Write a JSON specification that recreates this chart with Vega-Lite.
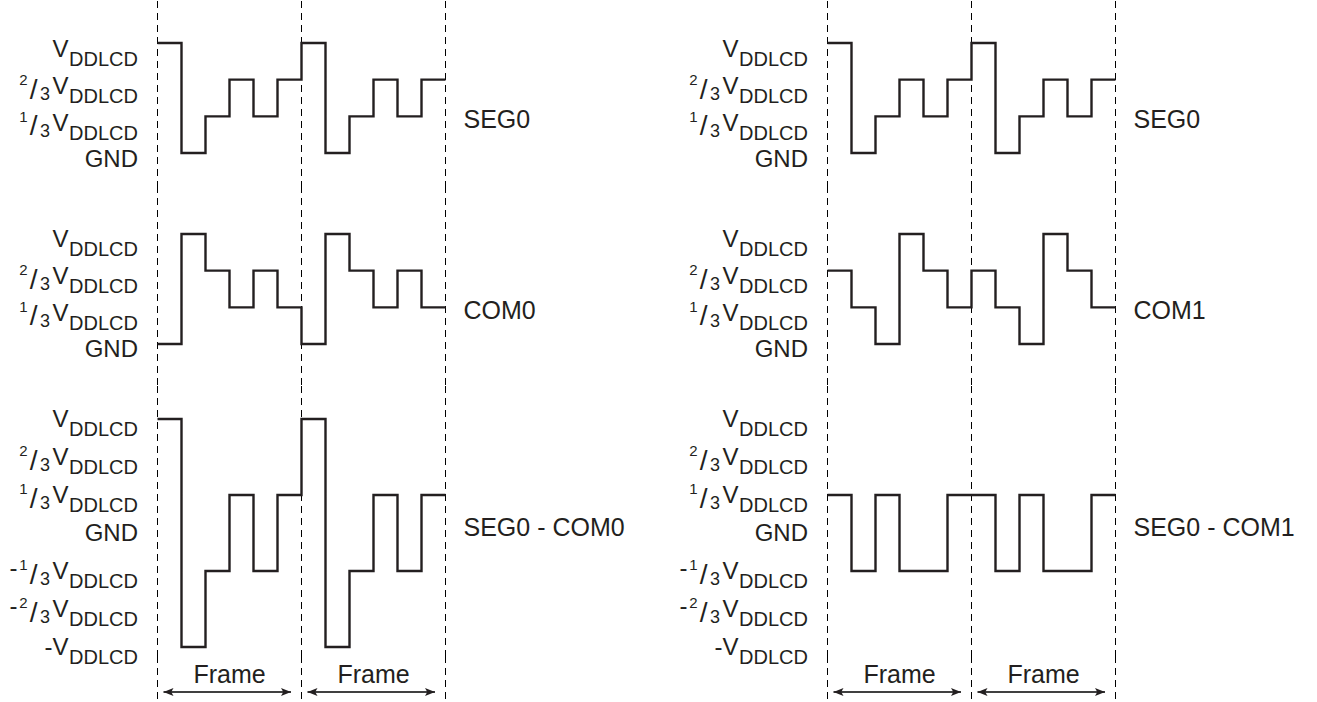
{
  "$schema": "https://vega.github.io/schema/vega-lite/v6.json",
  "padding": 0,
  "columns": 2,
  "spacing": {"row": 0, "column": 23},
  "bounds": "flush",
  "align": "each",
  "config": {
    "view": {"stroke": null},
    "mark": {"color": "#231f20"},
    "text": {"font": "Liberation Sans", "color": "#231f20"}
  },
  "datasets": {
    "d": [
      {"kind": "dash", "panel": "L", "t": 0}, {"kind": "dash", "panel": "L", "t": 6}, {"kind": "dash", "panel": "L", "t": 12},
      {"kind": "dash", "panel": "R", "t": 0}, {"kind": "dash", "panel": "R", "t": 6}, {"kind": "dash", "panel": "R", "t": 12},

      {"row": "seg", "panel": "L", "kind": "wave", "t": 0, "u": 3}, {"row": "seg", "panel": "L", "kind": "wave", "t": 1, "u": 0},
      {"row": "seg", "panel": "L", "kind": "wave", "t": 2, "u": 1}, {"row": "seg", "panel": "L", "kind": "wave", "t": 3, "u": 2},
      {"row": "seg", "panel": "L", "kind": "wave", "t": 4, "u": 1}, {"row": "seg", "panel": "L", "kind": "wave", "t": 5, "u": 2},
      {"row": "seg", "panel": "L", "kind": "wave", "t": 6, "u": 3}, {"row": "seg", "panel": "L", "kind": "wave", "t": 7, "u": 0},
      {"row": "seg", "panel": "L", "kind": "wave", "t": 8, "u": 1}, {"row": "seg", "panel": "L", "kind": "wave", "t": 9, "u": 2},
      {"row": "seg", "panel": "L", "kind": "wave", "t": 10, "u": 1}, {"row": "seg", "panel": "L", "kind": "wave", "t": 11, "u": 2},
      {"row": "seg", "panel": "L", "kind": "wave", "t": 12, "u": 2},

      {"row": "seg", "panel": "R", "kind": "wave", "t": 0, "u": 3}, {"row": "seg", "panel": "R", "kind": "wave", "t": 1, "u": 0},
      {"row": "seg", "panel": "R", "kind": "wave", "t": 2, "u": 1}, {"row": "seg", "panel": "R", "kind": "wave", "t": 3, "u": 2},
      {"row": "seg", "panel": "R", "kind": "wave", "t": 4, "u": 1}, {"row": "seg", "panel": "R", "kind": "wave", "t": 5, "u": 2},
      {"row": "seg", "panel": "R", "kind": "wave", "t": 6, "u": 3}, {"row": "seg", "panel": "R", "kind": "wave", "t": 7, "u": 0},
      {"row": "seg", "panel": "R", "kind": "wave", "t": 8, "u": 1}, {"row": "seg", "panel": "R", "kind": "wave", "t": 9, "u": 2},
      {"row": "seg", "panel": "R", "kind": "wave", "t": 10, "u": 1}, {"row": "seg", "panel": "R", "kind": "wave", "t": 11, "u": 2},
      {"row": "seg", "panel": "R", "kind": "wave", "t": 12, "u": 2},

      {"row": "com", "panel": "L", "kind": "wave", "t": 0, "u": 0}, {"row": "com", "panel": "L", "kind": "wave", "t": 1, "u": 3},
      {"row": "com", "panel": "L", "kind": "wave", "t": 2, "u": 2}, {"row": "com", "panel": "L", "kind": "wave", "t": 3, "u": 1},
      {"row": "com", "panel": "L", "kind": "wave", "t": 4, "u": 2}, {"row": "com", "panel": "L", "kind": "wave", "t": 5, "u": 1},
      {"row": "com", "panel": "L", "kind": "wave", "t": 6, "u": 0}, {"row": "com", "panel": "L", "kind": "wave", "t": 7, "u": 3},
      {"row": "com", "panel": "L", "kind": "wave", "t": 8, "u": 2}, {"row": "com", "panel": "L", "kind": "wave", "t": 9, "u": 1},
      {"row": "com", "panel": "L", "kind": "wave", "t": 10, "u": 2}, {"row": "com", "panel": "L", "kind": "wave", "t": 11, "u": 1},
      {"row": "com", "panel": "L", "kind": "wave", "t": 12, "u": 1},

      {"row": "com", "panel": "R", "kind": "wave", "t": 0, "u": 2}, {"row": "com", "panel": "R", "kind": "wave", "t": 1, "u": 1},
      {"row": "com", "panel": "R", "kind": "wave", "t": 2, "u": 0}, {"row": "com", "panel": "R", "kind": "wave", "t": 3, "u": 3},
      {"row": "com", "panel": "R", "kind": "wave", "t": 4, "u": 2}, {"row": "com", "panel": "R", "kind": "wave", "t": 5, "u": 1},
      {"row": "com", "panel": "R", "kind": "wave", "t": 6, "u": 2}, {"row": "com", "panel": "R", "kind": "wave", "t": 7, "u": 1},
      {"row": "com", "panel": "R", "kind": "wave", "t": 8, "u": 0}, {"row": "com", "panel": "R", "kind": "wave", "t": 9, "u": 3},
      {"row": "com", "panel": "R", "kind": "wave", "t": 10, "u": 2}, {"row": "com", "panel": "R", "kind": "wave", "t": 11, "u": 1},
      {"row": "com", "panel": "R", "kind": "wave", "t": 12, "u": 1},

      {"row": "diff", "panel": "L", "kind": "wave", "t": 0, "u": 3}, {"row": "diff", "panel": "L", "kind": "wave", "t": 1, "u": -3},
      {"row": "diff", "panel": "L", "kind": "wave", "t": 2, "u": -1}, {"row": "diff", "panel": "L", "kind": "wave", "t": 3, "u": 1},
      {"row": "diff", "panel": "L", "kind": "wave", "t": 4, "u": -1}, {"row": "diff", "panel": "L", "kind": "wave", "t": 5, "u": 1},
      {"row": "diff", "panel": "L", "kind": "wave", "t": 6, "u": 3}, {"row": "diff", "panel": "L", "kind": "wave", "t": 7, "u": -3},
      {"row": "diff", "panel": "L", "kind": "wave", "t": 8, "u": -1}, {"row": "diff", "panel": "L", "kind": "wave", "t": 9, "u": 1},
      {"row": "diff", "panel": "L", "kind": "wave", "t": 10, "u": -1}, {"row": "diff", "panel": "L", "kind": "wave", "t": 11, "u": 1},
      {"row": "diff", "panel": "L", "kind": "wave", "t": 12, "u": 1},

      {"row": "diff", "panel": "R", "kind": "wave", "t": 0, "u": 1}, {"row": "diff", "panel": "R", "kind": "wave", "t": 1, "u": -1},
      {"row": "diff", "panel": "R", "kind": "wave", "t": 2, "u": 1}, {"row": "diff", "panel": "R", "kind": "wave", "t": 3, "u": -1},
      {"row": "diff", "panel": "R", "kind": "wave", "t": 4, "u": -1}, {"row": "diff", "panel": "R", "kind": "wave", "t": 5, "u": 1},
      {"row": "diff", "panel": "R", "kind": "wave", "t": 6, "u": 1}, {"row": "diff", "panel": "R", "kind": "wave", "t": 7, "u": -1},
      {"row": "diff", "panel": "R", "kind": "wave", "t": 8, "u": 1}, {"row": "diff", "panel": "R", "kind": "wave", "t": 9, "u": -1},
      {"row": "diff", "panel": "R", "kind": "wave", "t": 10, "u": -1}, {"row": "diff", "panel": "R", "kind": "wave", "t": 11, "u": 1},
      {"row": "diff", "panel": "R", "kind": "wave", "t": 12, "u": 1},

      {"row": "seg", "panel": "L", "kind": "lab", "u": 3, "main": "V", "sub": "DDLCD"},
      {"row": "seg", "panel": "L", "kind": "lab", "u": 2, "num": "2", "sl": "/", "den": "3", "main": "V", "sub": "DDLCD"},
      {"row": "seg", "panel": "L", "kind": "lab", "u": 1, "num": "1", "sl": "/", "den": "3", "main": "V", "sub": "DDLCD"},
      {"row": "seg", "panel": "L", "kind": "lab", "u": 0, "main": "GND"},
      {"row": "seg", "panel": "R", "kind": "lab", "u": 3, "main": "V", "sub": "DDLCD"},
      {"row": "seg", "panel": "R", "kind": "lab", "u": 2, "num": "2", "sl": "/", "den": "3", "main": "V", "sub": "DDLCD"},
      {"row": "seg", "panel": "R", "kind": "lab", "u": 1, "num": "1", "sl": "/", "den": "3", "main": "V", "sub": "DDLCD"},
      {"row": "seg", "panel": "R", "kind": "lab", "u": 0, "main": "GND"},

      {"row": "com", "panel": "L", "kind": "lab", "u": 3, "main": "V", "sub": "DDLCD"},
      {"row": "com", "panel": "L", "kind": "lab", "u": 2, "num": "2", "sl": "/", "den": "3", "main": "V", "sub": "DDLCD"},
      {"row": "com", "panel": "L", "kind": "lab", "u": 1, "num": "1", "sl": "/", "den": "3", "main": "V", "sub": "DDLCD"},
      {"row": "com", "panel": "L", "kind": "lab", "u": 0, "main": "GND"},
      {"row": "com", "panel": "R", "kind": "lab", "u": 3, "main": "V", "sub": "DDLCD"},
      {"row": "com", "panel": "R", "kind": "lab", "u": 2, "num": "2", "sl": "/", "den": "3", "main": "V", "sub": "DDLCD"},
      {"row": "com", "panel": "R", "kind": "lab", "u": 1, "num": "1", "sl": "/", "den": "3", "main": "V", "sub": "DDLCD"},
      {"row": "com", "panel": "R", "kind": "lab", "u": 0, "main": "GND"},

      {"row": "diff", "panel": "L", "kind": "lab", "u": 3, "main": "V", "sub": "DDLCD"},
      {"row": "diff", "panel": "L", "kind": "lab", "u": 2, "num": "2", "sl": "/", "den": "3", "main": "V", "sub": "DDLCD"},
      {"row": "diff", "panel": "L", "kind": "lab", "u": 1, "num": "1", "sl": "/", "den": "3", "main": "V", "sub": "DDLCD"},
      {"row": "diff", "panel": "L", "kind": "lab", "u": 0, "main": "GND"},
      {"row": "diff", "panel": "L", "kind": "lab", "u": -1, "sign": "-", "num": "1", "sl": "/", "den": "3", "main": "V", "sub": "DDLCD"},
      {"row": "diff", "panel": "L", "kind": "lab", "u": -2, "sign": "-", "num": "2", "sl": "/", "den": "3", "main": "V", "sub": "DDLCD"},
      {"row": "diff", "panel": "L", "kind": "lab", "u": -3, "main": "-V", "sub": "DDLCD"},
      {"row": "diff", "panel": "R", "kind": "lab", "u": 3, "main": "V", "sub": "DDLCD"},
      {"row": "diff", "panel": "R", "kind": "lab", "u": 2, "num": "2", "sl": "/", "den": "3", "main": "V", "sub": "DDLCD"},
      {"row": "diff", "panel": "R", "kind": "lab", "u": 1, "num": "1", "sl": "/", "den": "3", "main": "V", "sub": "DDLCD"},
      {"row": "diff", "panel": "R", "kind": "lab", "u": 0, "main": "GND"},
      {"row": "diff", "panel": "R", "kind": "lab", "u": -1, "sign": "-", "num": "1", "sl": "/", "den": "3", "main": "V", "sub": "DDLCD"},
      {"row": "diff", "panel": "R", "kind": "lab", "u": -2, "sign": "-", "num": "2", "sl": "/", "den": "3", "main": "V", "sub": "DDLCD"},
      {"row": "diff", "panel": "R", "kind": "lab", "u": -3, "main": "-V", "sub": "DDLCD"},

      {"row": "seg", "panel": "L", "kind": "name", "text": "SEG0"},
      {"row": "seg", "panel": "R", "kind": "name", "text": "SEG0"},
      {"row": "com", "panel": "L", "kind": "name", "text": "COM0"},
      {"row": "com", "panel": "R", "kind": "name", "text": "COM1"},
      {"row": "diff", "panel": "L", "kind": "name", "text": "SEG0 - COM0"},
      {"row": "diff", "panel": "R", "kind": "name", "text": "SEG0 - COM1"},

      {"row": "frame", "panel": "L", "kind": "frame", "t0": 0, "t1": 6, "text": "Frame"},
      {"row": "frame", "panel": "L", "kind": "frame", "t0": 6, "t1": 12, "text": "Frame"},
      {"row": "frame", "panel": "R", "kind": "frame", "t0": 0, "t1": 6, "text": "Frame"},
      {"row": "frame", "panel": "R", "kind": "frame", "t0": 6, "t1": 12, "text": "Frame"}
    ]
  },
  "concat": [
    {
      "width": 647, "height": 185,
      "data": {"name": "d"},
      "transform": [{"filter": "datum.panel === 'L' && (datum.row === 'seg' || datum.kind === 'dash')"}],
      "layer": [
        {"transform": [{"filter": "datum.kind === 'dash'"}], "mark": {"type": "rule", "strokeDash": [7, 5], "strokeWidth": 1},
         "encoding": {"x": {"field": "t", "type": "quantitative", "scale": {"domain": [-6.5625, 20.3958], "nice": false, "zero": false}, "axis": null}}},
        {"transform": [{"filter": "datum.kind === 'wave'"}], "mark": {"type": "line", "interpolate": "step-after", "strokeWidth": 2.4, "strokeJoin": "miter"},
         "encoding": {"x": {"field": "t", "type": "quantitative", "scale": {"domain": [-6.5625, 20.3958], "nice": false, "zero": false}, "axis": null},
                      "y": {"field": "u", "type": "quantitative", "scale": {"domain": [-0.9, 4.1451], "nice": false, "zero": false}, "axis": null}}},
        {"transform": [{"filter": "datum.kind === 'lab' && datum.sub"}], "mark": {"type": "text", "align": "right", "baseline": "alphabetic", "fontSize": 20, "dx": -19.5, "dy": 23.5},
         "encoding": {"x": {"datum": 0, "type": "quantitative", "scale": {"domain": [-6.5625, 20.3958], "nice": false, "zero": false}, "axis": null},
                      "y": {"field": "u", "type": "quantitative", "scale": {"domain": [-0.9, 4.1451], "nice": false, "zero": false}, "axis": null}, "text": {"field": "sub"}}},
        {"transform": [{"filter": "datum.kind === 'lab' && datum.main && datum.main !== 'GND'"}], "mark": {"type": "text", "align": "right", "baseline": "alphabetic", "fontSize": 24, "dx": -89, "dy": 14.5},
         "encoding": {"x": {"datum": 0, "type": "quantitative", "scale": {"domain": [-6.5625, 20.3958], "nice": false, "zero": false}, "axis": null},
                      "y": {"field": "u", "type": "quantitative", "scale": {"domain": [-0.9, 4.1451], "nice": false, "zero": false}, "axis": null}, "text": {"field": "main"}}},
        {"transform": [{"filter": "datum.kind === 'lab' && datum.main === 'GND'"}], "mark": {"type": "text", "align": "right", "baseline": "alphabetic", "fontSize": 24, "dx": -19.5, "dy": 14.5},
         "encoding": {"x": {"datum": 0, "type": "quantitative", "scale": {"domain": [-6.5625, 20.3958], "nice": false, "zero": false}, "axis": null},
                      "y": {"field": "u", "type": "quantitative", "scale": {"domain": [-0.9, 4.1451], "nice": false, "zero": false}, "axis": null}, "text": {"field": "main"}}},
        {"transform": [{"filter": "datum.kind === 'lab' && datum.den"}], "mark": {"type": "text", "align": "right", "baseline": "alphabetic", "fontSize": 18, "dx": -107.5, "dy": 20.5},
         "encoding": {"x": {"datum": 0, "type": "quantitative", "scale": {"domain": [-6.5625, 20.3958], "nice": false, "zero": false}, "axis": null},
                      "y": {"field": "u", "type": "quantitative", "scale": {"domain": [-0.9, 4.1451], "nice": false, "zero": false}, "axis": null}, "text": {"field": "den"}}},
        {"transform": [{"filter": "datum.kind === 'lab' && datum.sl"}], "mark": {"type": "text", "align": "right", "baseline": "alphabetic", "fontSize": 28, "dx": -120, "dy": 19},
         "encoding": {"x": {"datum": 0, "type": "quantitative", "scale": {"domain": [-6.5625, 20.3958], "nice": false, "zero": false}, "axis": null},
                      "y": {"field": "u", "type": "quantitative", "scale": {"domain": [-0.9, 4.1451], "nice": false, "zero": false}, "axis": null}, "text": {"field": "sl"}}},
        {"transform": [{"filter": "datum.kind === 'lab' && datum.num"}], "mark": {"type": "text", "align": "right", "baseline": "alphabetic", "fontSize": 15, "dx": -130, "dy": 5.5},
         "encoding": {"x": {"datum": 0, "type": "quantitative", "scale": {"domain": [-6.5625, 20.3958], "nice": false, "zero": false}, "axis": null},
                      "y": {"field": "u", "type": "quantitative", "scale": {"domain": [-0.9, 4.1451], "nice": false, "zero": false}, "axis": null}, "text": {"field": "num"}}},
        {"transform": [{"filter": "datum.kind === 'name'"}], "mark": {"type": "text", "align": "left", "baseline": "alphabetic", "fontSize": 25, "dx": 18, "dy": 11.7},
         "encoding": {"x": {"datum": 12, "type": "quantitative", "scale": {"domain": [-6.5625, 20.3958], "nice": false, "zero": false}, "axis": null},
                      "y": {"datum": 1, "type": "quantitative", "scale": {"domain": [-0.9, 4.1451], "nice": false, "zero": false}, "axis": null}, "text": {"field": "text"}}}
      ]
    },
    {
      "width": 647, "height": 185,
      "data": {"name": "d"},
      "transform": [{"filter": "datum.panel === 'R' && (datum.row === 'seg' || datum.kind === 'dash')"}],
      "layer": [
        {"transform": [{"filter": "datum.kind === 'dash'"}], "mark": {"type": "rule", "strokeDash": [7, 5], "strokeWidth": 1},
         "encoding": {"x": {"field": "t", "type": "quantitative", "scale": {"domain": [-6.5625, 20.3958], "nice": false, "zero": false}, "axis": null}}},
        {"transform": [{"filter": "datum.kind === 'wave'"}], "mark": {"type": "line", "interpolate": "step-after", "strokeWidth": 2.4, "strokeJoin": "miter"},
         "encoding": {"x": {"field": "t", "type": "quantitative", "scale": {"domain": [-6.5625, 20.3958], "nice": false, "zero": false}, "axis": null},
                      "y": {"field": "u", "type": "quantitative", "scale": {"domain": [-0.9, 4.1451], "nice": false, "zero": false}, "axis": null}}},
        {"transform": [{"filter": "datum.kind === 'lab' && datum.sub"}], "mark": {"type": "text", "align": "right", "baseline": "alphabetic", "fontSize": 20, "dx": -19.5, "dy": 23.5},
         "encoding": {"x": {"datum": 0, "type": "quantitative", "scale": {"domain": [-6.5625, 20.3958], "nice": false, "zero": false}, "axis": null},
                      "y": {"field": "u", "type": "quantitative", "scale": {"domain": [-0.9, 4.1451], "nice": false, "zero": false}, "axis": null}, "text": {"field": "sub"}}},
        {"transform": [{"filter": "datum.kind === 'lab' && datum.main && datum.main !== 'GND'"}], "mark": {"type": "text", "align": "right", "baseline": "alphabetic", "fontSize": 24, "dx": -89, "dy": 14.5},
         "encoding": {"x": {"datum": 0, "type": "quantitative", "scale": {"domain": [-6.5625, 20.3958], "nice": false, "zero": false}, "axis": null},
                      "y": {"field": "u", "type": "quantitative", "scale": {"domain": [-0.9, 4.1451], "nice": false, "zero": false}, "axis": null}, "text": {"field": "main"}}},
        {"transform": [{"filter": "datum.kind === 'lab' && datum.main === 'GND'"}], "mark": {"type": "text", "align": "right", "baseline": "alphabetic", "fontSize": 24, "dx": -19.5, "dy": 14.5},
         "encoding": {"x": {"datum": 0, "type": "quantitative", "scale": {"domain": [-6.5625, 20.3958], "nice": false, "zero": false}, "axis": null},
                      "y": {"field": "u", "type": "quantitative", "scale": {"domain": [-0.9, 4.1451], "nice": false, "zero": false}, "axis": null}, "text": {"field": "main"}}},
        {"transform": [{"filter": "datum.kind === 'lab' && datum.den"}], "mark": {"type": "text", "align": "right", "baseline": "alphabetic", "fontSize": 18, "dx": -107.5, "dy": 20.5},
         "encoding": {"x": {"datum": 0, "type": "quantitative", "scale": {"domain": [-6.5625, 20.3958], "nice": false, "zero": false}, "axis": null},
                      "y": {"field": "u", "type": "quantitative", "scale": {"domain": [-0.9, 4.1451], "nice": false, "zero": false}, "axis": null}, "text": {"field": "den"}}},
        {"transform": [{"filter": "datum.kind === 'lab' && datum.sl"}], "mark": {"type": "text", "align": "right", "baseline": "alphabetic", "fontSize": 28, "dx": -120, "dy": 19},
         "encoding": {"x": {"datum": 0, "type": "quantitative", "scale": {"domain": [-6.5625, 20.3958], "nice": false, "zero": false}, "axis": null},
                      "y": {"field": "u", "type": "quantitative", "scale": {"domain": [-0.9, 4.1451], "nice": false, "zero": false}, "axis": null}, "text": {"field": "sl"}}},
        {"transform": [{"filter": "datum.kind === 'lab' && datum.num"}], "mark": {"type": "text", "align": "right", "baseline": "alphabetic", "fontSize": 15, "dx": -130, "dy": 5.5},
         "encoding": {"x": {"datum": 0, "type": "quantitative", "scale": {"domain": [-6.5625, 20.3958], "nice": false, "zero": false}, "axis": null},
                      "y": {"field": "u", "type": "quantitative", "scale": {"domain": [-0.9, 4.1451], "nice": false, "zero": false}, "axis": null}, "text": {"field": "num"}}},
        {"transform": [{"filter": "datum.kind === 'name'"}], "mark": {"type": "text", "align": "left", "baseline": "alphabetic", "fontSize": 25, "dx": 18, "dy": 11.7},
         "encoding": {"x": {"datum": 12, "type": "quantitative", "scale": {"domain": [-6.5625, 20.3958], "nice": false, "zero": false}, "axis": null},
                      "y": {"datum": 1, "type": "quantitative", "scale": {"domain": [-0.9, 4.1451], "nice": false, "zero": false}, "axis": null}, "text": {"field": "text"}}}
      ]
    },
    {
      "width": 647, "height": 200,
      "data": {"name": "d"},
      "transform": [{"filter": "datum.panel === 'L' && (datum.row === 'com' || datum.kind === 'dash')"}],
      "layer": [
        {"transform": [{"filter": "datum.kind === 'dash'"}], "mark": {"type": "rule", "strokeDash": [7, 5], "strokeWidth": 1},
         "encoding": {"x": {"field": "t", "type": "quantitative", "scale": {"domain": [-6.5625, 20.3958], "nice": false, "zero": false}, "axis": null}}},
        {"transform": [{"filter": "datum.kind === 'wave'"}], "mark": {"type": "line", "interpolate": "step-after", "strokeWidth": 2.4, "strokeJoin": "miter"},
         "encoding": {"x": {"field": "t", "type": "quantitative", "scale": {"domain": [-6.5625, 20.3958], "nice": false, "zero": false}, "axis": null},
                      "y": {"field": "u", "type": "quantitative", "scale": {"domain": [-1.1454, 4.3087], "nice": false, "zero": false}, "axis": null}}},
        {"transform": [{"filter": "datum.kind === 'lab' && datum.sub"}], "mark": {"type": "text", "align": "right", "baseline": "alphabetic", "fontSize": 20, "dx": -19.5, "dy": 22.5},
         "encoding": {"x": {"datum": 0, "type": "quantitative", "scale": {"domain": [-6.5625, 20.3958], "nice": false, "zero": false}, "axis": null},
                      "y": {"field": "u", "type": "quantitative", "scale": {"domain": [-1.1454, 4.3087], "nice": false, "zero": false}, "axis": null}, "text": {"field": "sub"}}},
        {"transform": [{"filter": "datum.kind === 'lab' && datum.main && datum.main !== 'GND'"}], "mark": {"type": "text", "align": "right", "baseline": "alphabetic", "fontSize": 24, "dx": -89, "dy": 13.5},
         "encoding": {"x": {"datum": 0, "type": "quantitative", "scale": {"domain": [-6.5625, 20.3958], "nice": false, "zero": false}, "axis": null},
                      "y": {"field": "u", "type": "quantitative", "scale": {"domain": [-1.1454, 4.3087], "nice": false, "zero": false}, "axis": null}, "text": {"field": "main"}}},
        {"transform": [{"filter": "datum.kind === 'lab' && datum.main === 'GND'"}], "mark": {"type": "text", "align": "right", "baseline": "alphabetic", "fontSize": 24, "dx": -19.5, "dy": 13.5},
         "encoding": {"x": {"datum": 0, "type": "quantitative", "scale": {"domain": [-6.5625, 20.3958], "nice": false, "zero": false}, "axis": null},
                      "y": {"field": "u", "type": "quantitative", "scale": {"domain": [-1.1454, 4.3087], "nice": false, "zero": false}, "axis": null}, "text": {"field": "main"}}},
        {"transform": [{"filter": "datum.kind === 'lab' && datum.den"}], "mark": {"type": "text", "align": "right", "baseline": "alphabetic", "fontSize": 18, "dx": -107.5, "dy": 19.5},
         "encoding": {"x": {"datum": 0, "type": "quantitative", "scale": {"domain": [-6.5625, 20.3958], "nice": false, "zero": false}, "axis": null},
                      "y": {"field": "u", "type": "quantitative", "scale": {"domain": [-1.1454, 4.3087], "nice": false, "zero": false}, "axis": null}, "text": {"field": "den"}}},
        {"transform": [{"filter": "datum.kind === 'lab' && datum.sl"}], "mark": {"type": "text", "align": "right", "baseline": "alphabetic", "fontSize": 28, "dx": -120, "dy": 18},
         "encoding": {"x": {"datum": 0, "type": "quantitative", "scale": {"domain": [-6.5625, 20.3958], "nice": false, "zero": false}, "axis": null},
                      "y": {"field": "u", "type": "quantitative", "scale": {"domain": [-1.1454, 4.3087], "nice": false, "zero": false}, "axis": null}, "text": {"field": "sl"}}},
        {"transform": [{"filter": "datum.kind === 'lab' && datum.num"}], "mark": {"type": "text", "align": "right", "baseline": "alphabetic", "fontSize": 15, "dx": -130, "dy": 4.5},
         "encoding": {"x": {"datum": 0, "type": "quantitative", "scale": {"domain": [-6.5625, 20.3958], "nice": false, "zero": false}, "axis": null},
                      "y": {"field": "u", "type": "quantitative", "scale": {"domain": [-1.1454, 4.3087], "nice": false, "zero": false}, "axis": null}, "text": {"field": "num"}}},
        {"transform": [{"filter": "datum.kind === 'name'"}], "mark": {"type": "text", "align": "left", "baseline": "alphabetic", "fontSize": 25, "dx": 18, "dy": 11.7},
         "encoding": {"x": {"datum": 12, "type": "quantitative", "scale": {"domain": [-6.5625, 20.3958], "nice": false, "zero": false}, "axis": null},
                      "y": {"datum": 1, "type": "quantitative", "scale": {"domain": [-1.1454, 4.3087], "nice": false, "zero": false}, "axis": null}, "text": {"field": "text"}}}
      ]
    },
    {
      "width": 647, "height": 200,
      "data": {"name": "d"},
      "transform": [{"filter": "datum.panel === 'R' && (datum.row === 'com' || datum.kind === 'dash')"}],
      "layer": [
        {"transform": [{"filter": "datum.kind === 'dash'"}], "mark": {"type": "rule", "strokeDash": [7, 5], "strokeWidth": 1},
         "encoding": {"x": {"field": "t", "type": "quantitative", "scale": {"domain": [-6.5625, 20.3958], "nice": false, "zero": false}, "axis": null}}},
        {"transform": [{"filter": "datum.kind === 'wave'"}], "mark": {"type": "line", "interpolate": "step-after", "strokeWidth": 2.4, "strokeJoin": "miter"},
         "encoding": {"x": {"field": "t", "type": "quantitative", "scale": {"domain": [-6.5625, 20.3958], "nice": false, "zero": false}, "axis": null},
                      "y": {"field": "u", "type": "quantitative", "scale": {"domain": [-1.1454, 4.3087], "nice": false, "zero": false}, "axis": null}}},
        {"transform": [{"filter": "datum.kind === 'lab' && datum.sub"}], "mark": {"type": "text", "align": "right", "baseline": "alphabetic", "fontSize": 20, "dx": -19.5, "dy": 22.5},
         "encoding": {"x": {"datum": 0, "type": "quantitative", "scale": {"domain": [-6.5625, 20.3958], "nice": false, "zero": false}, "axis": null},
                      "y": {"field": "u", "type": "quantitative", "scale": {"domain": [-1.1454, 4.3087], "nice": false, "zero": false}, "axis": null}, "text": {"field": "sub"}}},
        {"transform": [{"filter": "datum.kind === 'lab' && datum.main && datum.main !== 'GND'"}], "mark": {"type": "text", "align": "right", "baseline": "alphabetic", "fontSize": 24, "dx": -89, "dy": 13.5},
         "encoding": {"x": {"datum": 0, "type": "quantitative", "scale": {"domain": [-6.5625, 20.3958], "nice": false, "zero": false}, "axis": null},
                      "y": {"field": "u", "type": "quantitative", "scale": {"domain": [-1.1454, 4.3087], "nice": false, "zero": false}, "axis": null}, "text": {"field": "main"}}},
        {"transform": [{"filter": "datum.kind === 'lab' && datum.main === 'GND'"}], "mark": {"type": "text", "align": "right", "baseline": "alphabetic", "fontSize": 24, "dx": -19.5, "dy": 13.5},
         "encoding": {"x": {"datum": 0, "type": "quantitative", "scale": {"domain": [-6.5625, 20.3958], "nice": false, "zero": false}, "axis": null},
                      "y": {"field": "u", "type": "quantitative", "scale": {"domain": [-1.1454, 4.3087], "nice": false, "zero": false}, "axis": null}, "text": {"field": "main"}}},
        {"transform": [{"filter": "datum.kind === 'lab' && datum.den"}], "mark": {"type": "text", "align": "right", "baseline": "alphabetic", "fontSize": 18, "dx": -107.5, "dy": 19.5},
         "encoding": {"x": {"datum": 0, "type": "quantitative", "scale": {"domain": [-6.5625, 20.3958], "nice": false, "zero": false}, "axis": null},
                      "y": {"field": "u", "type": "quantitative", "scale": {"domain": [-1.1454, 4.3087], "nice": false, "zero": false}, "axis": null}, "text": {"field": "den"}}},
        {"transform": [{"filter": "datum.kind === 'lab' && datum.sl"}], "mark": {"type": "text", "align": "right", "baseline": "alphabetic", "fontSize": 28, "dx": -120, "dy": 18},
         "encoding": {"x": {"datum": 0, "type": "quantitative", "scale": {"domain": [-6.5625, 20.3958], "nice": false, "zero": false}, "axis": null},
                      "y": {"field": "u", "type": "quantitative", "scale": {"domain": [-1.1454, 4.3087], "nice": false, "zero": false}, "axis": null}, "text": {"field": "sl"}}},
        {"transform": [{"filter": "datum.kind === 'lab' && datum.num"}], "mark": {"type": "text", "align": "right", "baseline": "alphabetic", "fontSize": 15, "dx": -130, "dy": 4.5},
         "encoding": {"x": {"datum": 0, "type": "quantitative", "scale": {"domain": [-6.5625, 20.3958], "nice": false, "zero": false}, "axis": null},
                      "y": {"field": "u", "type": "quantitative", "scale": {"domain": [-1.1454, 4.3087], "nice": false, "zero": false}, "axis": null}, "text": {"field": "num"}}},
        {"transform": [{"filter": "datum.kind === 'name'"}], "mark": {"type": "text", "align": "left", "baseline": "alphabetic", "fontSize": 25, "dx": 18, "dy": 11.7},
         "encoding": {"x": {"datum": 12, "type": "quantitative", "scale": {"domain": [-6.5625, 20.3958], "nice": false, "zero": false}, "axis": null},
                      "y": {"datum": 1, "type": "quantitative", "scale": {"domain": [-1.1454, 4.3087], "nice": false, "zero": false}, "axis": null}, "text": {"field": "text"}}}
      ]
    },
    {
      "width": 647, "height": 270,
      "data": {"name": "d"},
      "transform": [{"filter": "datum.panel === 'L' && (datum.row === 'diff' || datum.kind === 'dash')"}],
      "layer": [
        {"transform": [{"filter": "datum.kind === 'dash'"}], "mark": {"type": "rule", "strokeDash": [7, 5], "strokeWidth": 1},
         "encoding": {"x": {"field": "t", "type": "quantitative", "scale": {"domain": [-6.5625, 20.3958], "nice": false, "zero": false}, "axis": null}}},
        {"transform": [{"filter": "datum.kind === 'wave'"}], "mark": {"type": "line", "interpolate": "step-after", "strokeWidth": 2.4, "strokeJoin": "miter"},
         "encoding": {"x": {"field": "t", "type": "quantitative", "scale": {"domain": [-6.5625, 20.3958], "nice": false, "zero": false}, "axis": null},
                      "y": {"field": "u", "type": "quantitative", "scale": {"domain": [-3.2368, 3.8684], "nice": false, "zero": false}, "axis": null}}},
        {"transform": [{"filter": "datum.kind === 'lab' && datum.sub"}], "mark": {"type": "text", "align": "right", "baseline": "alphabetic", "fontSize": 20, "dx": -19.5, "dy": 17.3},
         "encoding": {"x": {"datum": 0, "type": "quantitative", "scale": {"domain": [-6.5625, 20.3958], "nice": false, "zero": false}, "axis": null},
                      "y": {"field": "u", "type": "quantitative", "scale": {"domain": [-3.2368, 3.8684], "nice": false, "zero": false}, "axis": null}, "text": {"field": "sub"}}},
        {"transform": [{"filter": "datum.kind === 'lab' && datum.main && datum.main !== 'GND'"}], "mark": {"type": "text", "align": "right", "baseline": "alphabetic", "fontSize": 24, "dx": -89, "dy": 8.3},
         "encoding": {"x": {"datum": 0, "type": "quantitative", "scale": {"domain": [-6.5625, 20.3958], "nice": false, "zero": false}, "axis": null},
                      "y": {"field": "u", "type": "quantitative", "scale": {"domain": [-3.2368, 3.8684], "nice": false, "zero": false}, "axis": null}, "text": {"field": "main"}}},
        {"transform": [{"filter": "datum.kind === 'lab' && datum.main === 'GND'"}], "mark": {"type": "text", "align": "right", "baseline": "alphabetic", "fontSize": 24, "dx": -19.5, "dy": 8.3},
         "encoding": {"x": {"datum": 0, "type": "quantitative", "scale": {"domain": [-6.5625, 20.3958], "nice": false, "zero": false}, "axis": null},
                      "y": {"field": "u", "type": "quantitative", "scale": {"domain": [-3.2368, 3.8684], "nice": false, "zero": false}, "axis": null}, "text": {"field": "main"}}},
        {"transform": [{"filter": "datum.kind === 'lab' && datum.den"}], "mark": {"type": "text", "align": "right", "baseline": "alphabetic", "fontSize": 18, "dx": -107.5, "dy": 14.3},
         "encoding": {"x": {"datum": 0, "type": "quantitative", "scale": {"domain": [-6.5625, 20.3958], "nice": false, "zero": false}, "axis": null},
                      "y": {"field": "u", "type": "quantitative", "scale": {"domain": [-3.2368, 3.8684], "nice": false, "zero": false}, "axis": null}, "text": {"field": "den"}}},
        {"transform": [{"filter": "datum.kind === 'lab' && datum.sl"}], "mark": {"type": "text", "align": "right", "baseline": "alphabetic", "fontSize": 28, "dx": -120, "dy": 12.8},
         "encoding": {"x": {"datum": 0, "type": "quantitative", "scale": {"domain": [-6.5625, 20.3958], "nice": false, "zero": false}, "axis": null},
                      "y": {"field": "u", "type": "quantitative", "scale": {"domain": [-3.2368, 3.8684], "nice": false, "zero": false}, "axis": null}, "text": {"field": "sl"}}},
        {"transform": [{"filter": "datum.kind === 'lab' && datum.num"}], "mark": {"type": "text", "align": "right", "baseline": "alphabetic", "fontSize": 15, "dx": -130, "dy": -0.7},
         "encoding": {"x": {"datum": 0, "type": "quantitative", "scale": {"domain": [-6.5625, 20.3958], "nice": false, "zero": false}, "axis": null},
                      "y": {"field": "u", "type": "quantitative", "scale": {"domain": [-3.2368, 3.8684], "nice": false, "zero": false}, "axis": null}, "text": {"field": "num"}}},
        {"transform": [{"filter": "datum.kind === 'lab' && datum.sign"}], "mark": {"type": "text", "align": "right", "baseline": "alphabetic", "fontSize": 24, "dx": -140, "dy": 4.8},
         "encoding": {"x": {"datum": 0, "type": "quantitative", "scale": {"domain": [-6.5625, 20.3958], "nice": false, "zero": false}, "axis": null},
                      "y": {"field": "u", "type": "quantitative", "scale": {"domain": [-3.2368, 3.8684], "nice": false, "zero": false}, "axis": null}, "text": {"field": "sign"}}},
        {"transform": [{"filter": "datum.kind === 'name'"}], "mark": {"type": "text", "align": "left", "baseline": "alphabetic", "fontSize": 25, "dx": 18, "dy": 3},
         "encoding": {"x": {"datum": 12, "type": "quantitative", "scale": {"domain": [-6.5625, 20.3958], "nice": false, "zero": false}, "axis": null},
                      "y": {"datum": 0, "type": "quantitative", "scale": {"domain": [-3.2368, 3.8684], "nice": false, "zero": false}, "axis": null}, "text": {"field": "text"}}}
      ]
    },
    {
      "width": 647, "height": 270,
      "data": {"name": "d"},
      "transform": [{"filter": "datum.panel === 'R' && (datum.row === 'diff' || datum.kind === 'dash')"}],
      "layer": [
        {"transform": [{"filter": "datum.kind === 'dash'"}], "mark": {"type": "rule", "strokeDash": [7, 5], "strokeWidth": 1},
         "encoding": {"x": {"field": "t", "type": "quantitative", "scale": {"domain": [-6.5625, 20.3958], "nice": false, "zero": false}, "axis": null}}},
        {"transform": [{"filter": "datum.kind === 'wave'"}], "mark": {"type": "line", "interpolate": "step-after", "strokeWidth": 2.4, "strokeJoin": "miter"},
         "encoding": {"x": {"field": "t", "type": "quantitative", "scale": {"domain": [-6.5625, 20.3958], "nice": false, "zero": false}, "axis": null},
                      "y": {"field": "u", "type": "quantitative", "scale": {"domain": [-3.2368, 3.8684], "nice": false, "zero": false}, "axis": null}}},
        {"transform": [{"filter": "datum.kind === 'lab' && datum.sub"}], "mark": {"type": "text", "align": "right", "baseline": "alphabetic", "fontSize": 20, "dx": -19.5, "dy": 17.3},
         "encoding": {"x": {"datum": 0, "type": "quantitative", "scale": {"domain": [-6.5625, 20.3958], "nice": false, "zero": false}, "axis": null},
                      "y": {"field": "u", "type": "quantitative", "scale": {"domain": [-3.2368, 3.8684], "nice": false, "zero": false}, "axis": null}, "text": {"field": "sub"}}},
        {"transform": [{"filter": "datum.kind === 'lab' && datum.main && datum.main !== 'GND'"}], "mark": {"type": "text", "align": "right", "baseline": "alphabetic", "fontSize": 24, "dx": -89, "dy": 8.3},
         "encoding": {"x": {"datum": 0, "type": "quantitative", "scale": {"domain": [-6.5625, 20.3958], "nice": false, "zero": false}, "axis": null},
                      "y": {"field": "u", "type": "quantitative", "scale": {"domain": [-3.2368, 3.8684], "nice": false, "zero": false}, "axis": null}, "text": {"field": "main"}}},
        {"transform": [{"filter": "datum.kind === 'lab' && datum.main === 'GND'"}], "mark": {"type": "text", "align": "right", "baseline": "alphabetic", "fontSize": 24, "dx": -19.5, "dy": 8.3},
         "encoding": {"x": {"datum": 0, "type": "quantitative", "scale": {"domain": [-6.5625, 20.3958], "nice": false, "zero": false}, "axis": null},
                      "y": {"field": "u", "type": "quantitative", "scale": {"domain": [-3.2368, 3.8684], "nice": false, "zero": false}, "axis": null}, "text": {"field": "main"}}},
        {"transform": [{"filter": "datum.kind === 'lab' && datum.den"}], "mark": {"type": "text", "align": "right", "baseline": "alphabetic", "fontSize": 18, "dx": -107.5, "dy": 14.3},
         "encoding": {"x": {"datum": 0, "type": "quantitative", "scale": {"domain": [-6.5625, 20.3958], "nice": false, "zero": false}, "axis": null},
                      "y": {"field": "u", "type": "quantitative", "scale": {"domain": [-3.2368, 3.8684], "nice": false, "zero": false}, "axis": null}, "text": {"field": "den"}}},
        {"transform": [{"filter": "datum.kind === 'lab' && datum.sl"}], "mark": {"type": "text", "align": "right", "baseline": "alphabetic", "fontSize": 28, "dx": -120, "dy": 12.8},
         "encoding": {"x": {"datum": 0, "type": "quantitative", "scale": {"domain": [-6.5625, 20.3958], "nice": false, "zero": false}, "axis": null},
                      "y": {"field": "u", "type": "quantitative", "scale": {"domain": [-3.2368, 3.8684], "nice": false, "zero": false}, "axis": null}, "text": {"field": "sl"}}},
        {"transform": [{"filter": "datum.kind === 'lab' && datum.num"}], "mark": {"type": "text", "align": "right", "baseline": "alphabetic", "fontSize": 15, "dx": -130, "dy": -0.7},
         "encoding": {"x": {"datum": 0, "type": "quantitative", "scale": {"domain": [-6.5625, 20.3958], "nice": false, "zero": false}, "axis": null},
                      "y": {"field": "u", "type": "quantitative", "scale": {"domain": [-3.2368, 3.8684], "nice": false, "zero": false}, "axis": null}, "text": {"field": "num"}}},
        {"transform": [{"filter": "datum.kind === 'lab' && datum.sign"}], "mark": {"type": "text", "align": "right", "baseline": "alphabetic", "fontSize": 24, "dx": -140, "dy": 4.8},
         "encoding": {"x": {"datum": 0, "type": "quantitative", "scale": {"domain": [-6.5625, 20.3958], "nice": false, "zero": false}, "axis": null},
                      "y": {"field": "u", "type": "quantitative", "scale": {"domain": [-3.2368, 3.8684], "nice": false, "zero": false}, "axis": null}, "text": {"field": "sign"}}},
        {"transform": [{"filter": "datum.kind === 'name'"}], "mark": {"type": "text", "align": "left", "baseline": "alphabetic", "fontSize": 25, "dx": 18, "dy": 3},
         "encoding": {"x": {"datum": 12, "type": "quantitative", "scale": {"domain": [-6.5625, 20.3958], "nice": false, "zero": false}, "axis": null},
                      "y": {"datum": 0, "type": "quantitative", "scale": {"domain": [-3.2368, 3.8684], "nice": false, "zero": false}, "axis": null}, "text": {"field": "text"}}}
      ]
    },
    {
      "width": 647, "height": 47,
      "data": {"name": "d"},
      "transform": [{"filter": "datum.panel === 'L' && (datum.row === 'frame' || datum.kind === 'dash')"}],
      "layer": [
        {"transform": [{"filter": "datum.kind === 'dash'"}], "mark": {"type": "rule", "strokeDash": [7, 5], "strokeWidth": 1},
         "encoding": {"x": {"field": "t", "type": "quantitative", "scale": {"domain": [-6.5625, 20.3958], "nice": false, "zero": false}, "axis": null}}},
        {"transform": [{"filter": "datum.kind === 'frame'"}], "mark": {"type": "text", "align": "center", "baseline": "alphabetic", "fontSize": 25, "dx": 72, "dy": 3.5},
         "encoding": {"x": {"field": "t0", "type": "quantitative", "scale": {"domain": [-6.5625, 20.3958], "nice": false, "zero": false}, "axis": null}, "text": {"field": "text"}}},
        {"transform": [{"filter": "datum.kind === 'frame'"}], "mark": {"type": "rule", "strokeWidth": 1.4, "xOffset": 6, "x2Offset": -10.5, "yOffset": 12.5},
         "encoding": {"x": {"field": "t0", "type": "quantitative", "scale": {"domain": [-6.5625, 20.3958], "nice": false, "zero": false}, "axis": null}, "x2": {"field": "t1"}}},
        {"transform": [{"filter": "datum.kind === 'frame'"}], "mark": {"type": "point", "shape": "M-1,0L1,-0.8L0.55,0L1,0.8Z", "size": 100, "filled": true, "opacity": 1, "strokeWidth": 0, "xOffset": 11, "yOffset": 12.5},
         "encoding": {"x": {"field": "t0", "type": "quantitative", "scale": {"domain": [-6.5625, 20.3958], "nice": false, "zero": false}, "axis": null}}},
        {"transform": [{"filter": "datum.kind === 'frame'"}], "mark": {"type": "point", "shape": "M1,0L-1,-0.8L-0.55,0L-1,0.8Z", "size": 100, "filled": true, "opacity": 1, "strokeWidth": 0, "xOffset": -15.5, "yOffset": 12.5},
         "encoding": {"x": {"field": "t1", "type": "quantitative", "scale": {"domain": [-6.5625, 20.3958], "nice": false, "zero": false}, "axis": null}}}
      ]
    },
    {
      "width": 647, "height": 47,
      "data": {"name": "d"},
      "transform": [{"filter": "datum.panel === 'R' && (datum.row === 'frame' || datum.kind === 'dash')"}],
      "layer": [
        {"transform": [{"filter": "datum.kind === 'dash'"}], "mark": {"type": "rule", "strokeDash": [7, 5], "strokeWidth": 1},
         "encoding": {"x": {"field": "t", "type": "quantitative", "scale": {"domain": [-6.5625, 20.3958], "nice": false, "zero": false}, "axis": null}}},
        {"transform": [{"filter": "datum.kind === 'frame'"}], "mark": {"type": "text", "align": "center", "baseline": "alphabetic", "fontSize": 25, "dx": 72, "dy": 3.5},
         "encoding": {"x": {"field": "t0", "type": "quantitative", "scale": {"domain": [-6.5625, 20.3958], "nice": false, "zero": false}, "axis": null}, "text": {"field": "text"}}},
        {"transform": [{"filter": "datum.kind === 'frame'"}], "mark": {"type": "rule", "strokeWidth": 1.4, "xOffset": 6, "x2Offset": -10.5, "yOffset": 12.5},
         "encoding": {"x": {"field": "t0", "type": "quantitative", "scale": {"domain": [-6.5625, 20.3958], "nice": false, "zero": false}, "axis": null}, "x2": {"field": "t1"}}},
        {"transform": [{"filter": "datum.kind === 'frame'"}], "mark": {"type": "point", "shape": "M-1,0L1,-0.8L0.55,0L1,0.8Z", "size": 100, "filled": true, "opacity": 1, "strokeWidth": 0, "xOffset": 11, "yOffset": 12.5},
         "encoding": {"x": {"field": "t0", "type": "quantitative", "scale": {"domain": [-6.5625, 20.3958], "nice": false, "zero": false}, "axis": null}}},
        {"transform": [{"filter": "datum.kind === 'frame'"}], "mark": {"type": "point", "shape": "M1,0L-1,-0.8L-0.55,0L-1,0.8Z", "size": 100, "filled": true, "opacity": 1, "strokeWidth": 0, "xOffset": -15.5, "yOffset": 12.5},
         "encoding": {"x": {"field": "t1", "type": "quantitative", "scale": {"domain": [-6.5625, 20.3958], "nice": false, "zero": false}, "axis": null}}}
      ]
    }
  ]
}
